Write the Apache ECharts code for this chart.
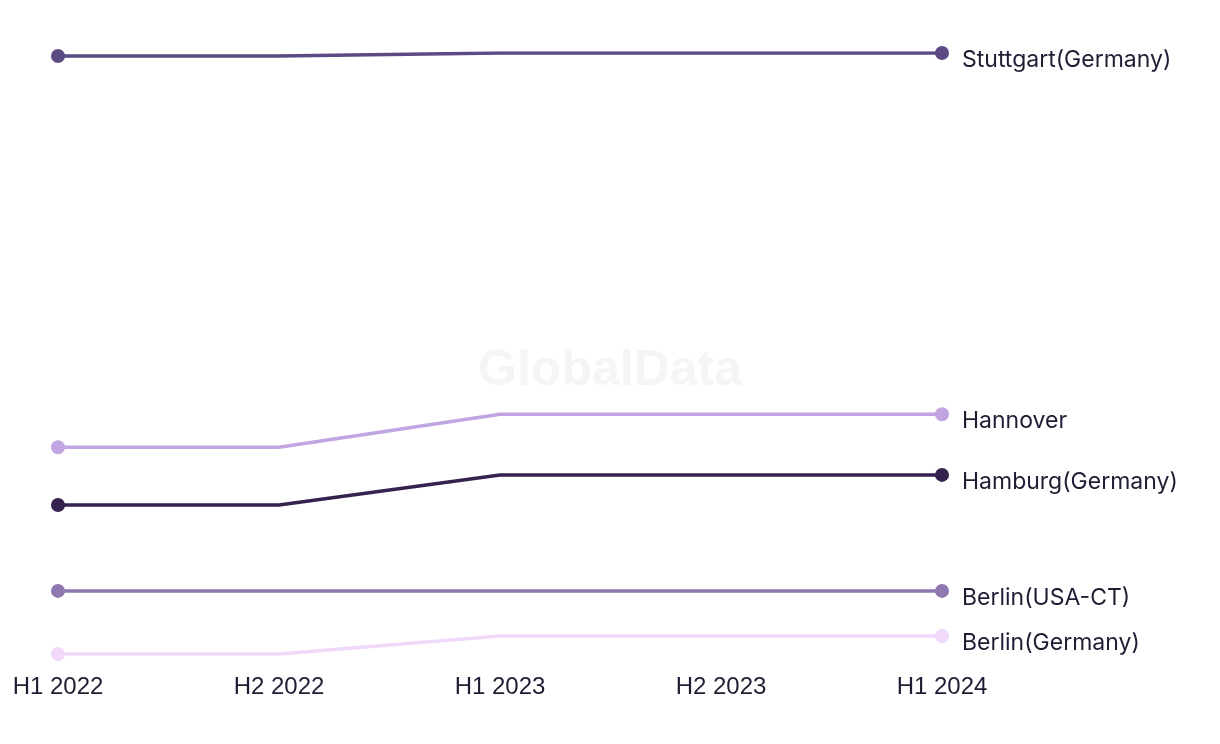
<!DOCTYPE html>
<html>
<head>
<meta charset="utf-8">
<script src="https://cdn.jsdelivr.net/npm/echarts@6/dist/echarts.min.js"></script>
<style>
html,body{margin:0;padding:0;background:#fff;}
#chart{width:1220px;height:744px;}
</style>
</head>
<body>
<div id="chart"></div>
<script>
const categories = ["H1 2022", "H2 2022", "H1 2023", "H2 2023", "H1 2024"];
const seriesNames = ["Stuttgart(Germany)", "Hannover", "Hamburg(Germany)", "Berlin(USA-CT)", "Berlin(Germany)"];
const stuttgart = [99.5, 99.5, 100, 100, 100];
const hannover = [34.4, 34.4, 39.9, 39.9, 39.9];
const hamburg = [24.8, 24.8, 29.8, 29.8, 29.8];
const berlinUSA = [10.5, 10.5, 10.5, 10.5, 10.5];
const berlinGermany = [0, 0, 3.0, 3.0, 3.0];
const colors = ["#5c4a84", "#c0a5e2", "#36224f", "#8f78b0", "#f0d9fb"];

const allData = [stuttgart, hannover, hamburg, berlinUSA, berlinGermany];

const chart = echarts.init(document.getElementById('chart'));
chart.setOption({
  animation: false,
  backgroundColor: '#ffffff',
  graphic: [{
    type: 'text',
    left: 'center',
    top: 346,
    z: 0,
    style: {
      text: 'GlobalData',
      font: 'bold 50px "Liberation Sans", Arial, sans-serif',
      fill: '#f5f5f5'
    }
  }],
  grid: { left: 58, right: 278, top: 53, bottom: 90 },
  xAxis: {
    type: 'category',
    data: categories,
    boundaryGap: false,
    axisLine: { show: false },
    axisTick: { show: false },
    splitLine: { show: false },
    axisLabel: {
      color: '#1f1d33',
      fontSize: 24,
      fontFamily: '"Liberation Sans", Arial, sans-serif',
      margin: 21
    }
  },
  yAxis: {
    type: 'value',
    min: 0,
    max: 100,
    show: false
  },
  series: allData.map((d, i) => ({
    name: seriesNames[i],
    type: 'line',
    data: d,
    z: 5,
    color: colors[i],
    lineStyle: { width: 3.5, color: colors[i] },
    itemStyle: { color: colors[i] },
    showSymbol: true,
    symbol: 'circle',
    symbolSize: (v, p) => (p.dataIndex === 0 || p.dataIndex === d.length - 1) ? 14 : 0,
    endLabel: {
      show: true,
      formatter: seriesNames[i],
      color: '#1f1d33',
      fontSize: 23,
      fontFamily: 'Inter, sans-serif',
      distance: 20,
      offset: [0, 7]
    }
  }))
});
</script>
</body>
</html>
